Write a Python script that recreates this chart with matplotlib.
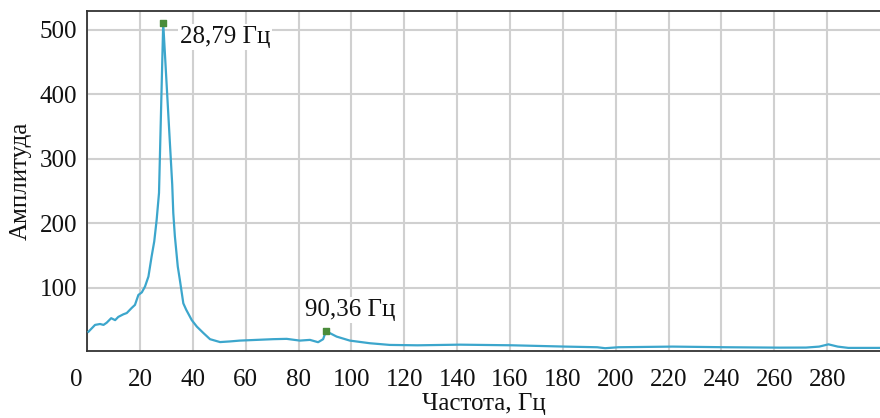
import matplotlib
matplotlib.use("Agg")
import matplotlib.pyplot as plt

freq = [0.5, 3.0, 4.9, 6.2, 7.4, 9.1, 10.6, 11.8, 13.7, 15.0, 16.9, 18.1, 19.4, 20.7,
        21.9, 23.2, 24.4, 25.4, 26.3, 27.2, 28.79, 32.2, 32.6, 33.2, 34.3, 35.1, 36.4,
        37.5, 39.6, 41.5, 44.0, 46.5, 50.3, 54.0, 57.8, 64.1, 70.4, 75.5, 80.5, 84.3,
        87.4, 89.3, 90.36, 94.4, 99.4, 107.0, 114.5, 125.0, 141.0, 161.0, 181.0, 193.0,
        196.0, 201.0, 221.5, 241.8, 262.0, 272.0, 277.0, 280.5, 284.0, 288.0, 300.0]
amp = [32, 42.6, 44, 42.6, 46, 53, 50, 55, 59, 61, 69, 73.6, 89, 93,
       102, 117.5, 148.5, 172, 205, 247, 510, 260, 216, 180, 133, 112, 76,
       66, 50, 40, 30, 20.5, 16, 17, 18.3, 19.4, 20.5, 21, 18.3, 19.4,
       15.8, 20.5, 33, 24.5, 18.3, 14.2, 11.6, 11.0, 12.0, 11.0, 9.0, 8.0,
       6.5, 8.0, 9.0, 8.0, 7.4, 7.5, 9.0, 12.5, 9.0, 7.0, 7.0]
peak_freq = [28.79, 90.36]
peak_amp = [510, 33]
peak_labels = ["28,79 Гц", "90,36 Гц"]
label_pos = [(35.0, 489), (82.4, 66)]
xticks = list(range(0, 300, 20))
xtick_labels = [str(v) for v in xticks]
yticks = [100, 200, 300, 400, 500]

plt.rcParams['font.family'] = ['Liberation Serif', 'DejaVu Serif']
FS = 18

fig = plt.figure(figsize=(8.8, 4.18), dpi=100)
ax = fig.add_axes([0.099, 0.160, 0.901, 0.814])

ax.plot(freq, amp, color='#3ca6cc', lw=1.6, zorder=3)
ax.scatter(peak_freq, peak_amp, marker='s', s=22, color='#4a8c3a', zorder=4)
for (tx, ty), lab in zip(label_pos, peak_labels):
    ax.text(tx, ty, lab, fontsize=FS, va='center', ha='left', color='#111111',
            bbox=dict(facecolor='white', edgecolor='none', pad=1.5), zorder=5)

ax.set_xlim(0, 300)
ax.set_ylim(2, 529)
ax.set_xticks(xticks)
ax.set_xticklabels([''] + xtick_labels[1:])
ax.set_yticks(yticks)
ax.tick_params(length=0, labelsize=FS, colors='#111111')
ax.tick_params(axis='x', pad=13)
ax.tick_params(axis='y', pad=7)
# the "0" label sits left of the axis origin in the reference
ax.annotate(xtick_labels[0], xy=(xticks[0], 0), xycoords=('data', 'axes fraction'),
            xytext=(-8, -13), textcoords='offset points', ha='center', va='top',
            fontsize=FS, color='#111111', annotation_clip=False)
ax.grid(True, color='#d0d0d0', lw=1.5, zorder=0)
ax.set_axisbelow(True)
for s in ['left', 'bottom', 'top']:
    ax.spines[s].set_color('#333333')
    ax.spines[s].set_linewidth(1.3)
ax.spines['right'].set_visible(False)

ax.set_xlabel('Частота, Гц', fontsize=FS, color='#111111', labelpad=1)
ax.set_ylabel('Амплитуда', fontsize=FS, color='#111111', labelpad=6)

fig.savefig('out.png', dpi=100)
